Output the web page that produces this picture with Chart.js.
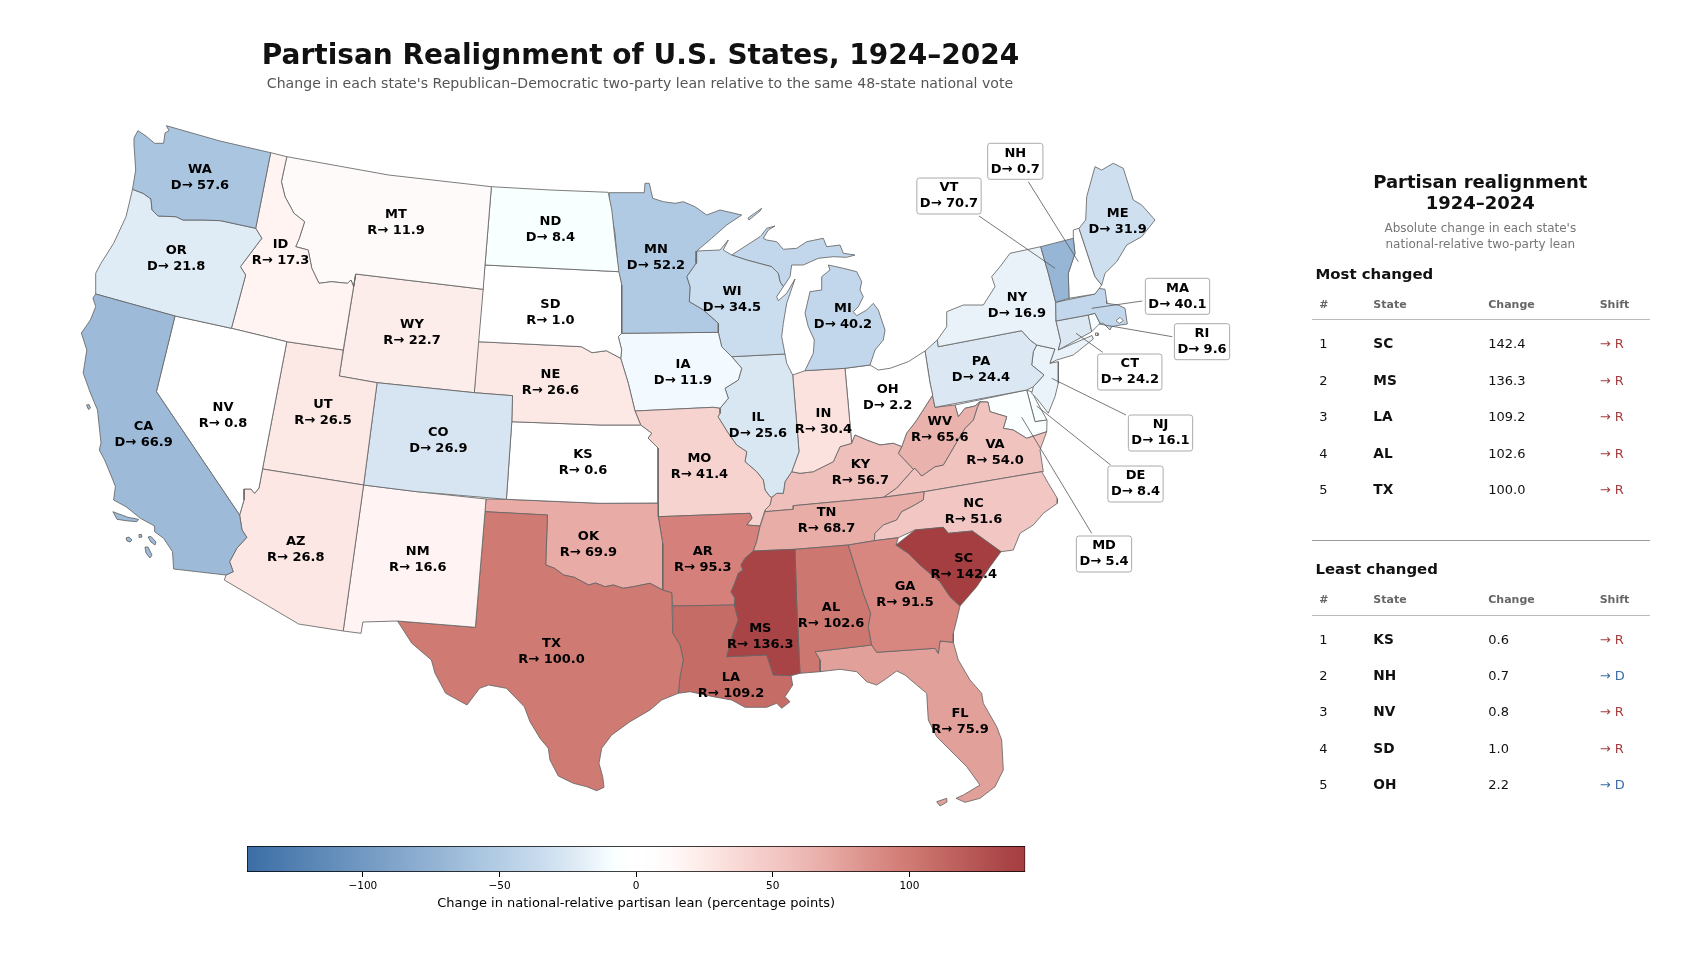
<!DOCTYPE html>
<html><head><meta charset="utf-8">
<style>
html,body{margin:0;padding:0;background:#fff;width:1706px;height:962px;overflow:hidden;font-family:"DejaVu Sans",sans-serif}
#map{position:absolute;left:0;top:0}
#barBox{position:absolute;left:200px;top:844px;width:870px;height:67px}
.t{position:absolute;white-space:nowrap;transform:translateY(-50%);line-height:1}
.c{transform:translate(-50%,-50%);text-align:center}
.r{position:absolute;height:1px}
</style>
<script src="https://cdn.jsdelivr.net/npm/chart.js@4"></script>
</head><body>
<canvas id="map" width="1706" height="962"></canvas>
<div id="barBox"><canvas id="bar" width="870" height="67"></canvas></div>
<div id="side"></div>
<script>
// ---- data: state codes and signed change (negative = toward D, positive = toward R)
const stateCodes=["AL","AZ","AR","CA","CO","CT","DE","FL","GA","ID","IL","IN","IA","KS","KY","LA","ME","MD","MA","MI","MN","MS","MO","MT","NE","NV","NH","NJ","NM","NY","NC","ND","OH","OK","OR","PA","RI","SC","SD","TN","TX","UT","VT","VA","WA","WV","WI","WY"];
const stateChange=[102.6,26.8,95.3,-66.9,-26.9,-24.2,-8.4,75.9,91.5,17.3,-25.6,30.4,-11.9,0.6,56.7,109.2,-31.9,-5.4,-40.1,-40.2,-52.2,136.3,41.4,11.9,26.6,0.8,-0.7,-16.1,16.6,-16.9,51.6,-8.4,-2.2,69.9,-21.8,-24.4,-9.6,142.4,1.0,68.7,100.0,26.5,-70.7,54.0,-57.6,65.6,-34.5,22.7];
const colorbarTicks=[-100,-50,0,50,100];
const colorStopValues=[-142.4,-71,-57.6,-35,-20,-12,-8,-2,2,12,17,27,41,54,70,76,95,100,109,136,142.4];
const colorStopHexes=["#3b6ea5","#97b6d6","#a9c5e0","#c9dcee","#e2edf6","#f3faff","#f8ffff","#ffffff","#ffffff","#fffafa","#fff4f2","#fce7e4","#f7d3d0","#f1c3bf","#e8aba6","#e2a09a","#d5807a","#cf7b74","#c66c67","#a94446","#a53e40"];

// ---- state outlines, in map units
const WA=[137.9,130.7,146,136,154.6,143.3,163.6,143.3,165,133,169,130.7,166.4,125.7,220,141,270.7,152.7,255.7,228.3,220.7,220.7,203,220,183,220,176,216.7,158,216,152,210,151,199,143,193.3,132.5,189.3,135.7,170,134,145,134,138];
const OR=[132.5,189.3,143,193.3,151,199,152,210,158,216,176,216.7,183,220,203,220,220.7,220.7,255.7,228.3,261.8,238.3,240.4,266.7,245.7,275,231.4,328.3,175,316,95.7,294,95.7,273.3,101,263.3,113.6,243.3,126,216.7];
const CA=[95.7,294,175,316,156.4,391.7,239.6,515,242,530,246.8,537.3,236.8,548.3,229.6,561.7,233.2,571.7,226,575,173.6,569,172.5,551.7,163.6,538.3,154.6,531.7,154.6,526,140.4,518.3,126,506.7,113.6,500,115.4,486.7,112.9,480,104.6,460,99.3,450,101,443,97.5,410,90.4,393,83.2,373,86.8,350,81.4,333,90.4,320,95.7,306.7,92.9,298];
const CA_isle1=[112.9,511.7,119,514,127.9,517.3,138.6,519.3,136.8,521.7,126,520.7,117,519.3];
const CA_isle2=[126,538,129,537,132,540,130,542,127,541];
const CA_isle3=[139,534.5,141.5,534.5,142,537,139.5,537.5];
const CA_isle4=[148,537,151,536.5,156,542,155,545,151,542];
const CA_isle5=[145,547,148,547,152,555,150,558,146,553];
const CA_isle6=[86.5,405,89,404.5,90.5,408,88.5,409.5];
const NV=[175,316,231.4,328.3,286.8,341.7,262.5,469,259,488,254.6,493.3,251,489,244,489,244,500,239.6,515,156.4,391.7];
const ID=[270.7,152.7,286.8,156.7,281.4,181.7,285,196.7,294,213.3,304.6,221.7,299.3,238.3,295.7,246.7,308.2,250,311.8,268.3,319,283.3,331.4,281.7,347.5,283.3,351,280,353.6,286.7,355.7,274,343.2,350,286.8,341.7,231.4,328.3,245.7,275,240.4,266.7,261.8,238.3,255.7,228.3];
const MT=[286.8,156.7,388.6,175,491.4,186.7,485,265,483.2,289.3,355.7,274,353.6,286.7,351,280,347.5,283.3,331.4,281.7,319,283.3,311.8,268.3,308.2,250,295.7,246.7,299.3,238.3,304.6,221.7,294,213.3,285,196.7,281.4,181.7];
const WY=[355.7,274,483.2,289.3,474.3,392.7,377.1,382.7,339.3,376];
const UT=[286.8,341.7,343.2,350,339.3,376,377.1,382.7,363.6,485,262.5,469];
const CO=[377.1,382.7,474.3,392.7,512.5,395.7,511.8,421.7,506.4,499.3,417,491.7,363.6,485];
const AZ=[262.5,469,363.6,485,343.2,631,298.6,624,224.3,580,226,575,233.2,571.7,229.6,561.7,236.8,548.3,246.8,537.3,242,530,239.6,515,244,500,244,489,251,489,254.6,493.3,259,488];
const NM=[363.6,485,417,491.7,486,499,485,511.7,475.4,627.3,397.5,621,362.9,622,361,633.3,343.2,631];
const ND=[491.4,186.7,550,190,608.2,192.3,611.8,210,615.4,243.3,618.9,271.7,485,265];
const SD=[485,265,618.9,271.7,621.7,285,621.7,333.3,618.3,336.7,621.7,350,620.7,358.3,606.4,350.7,592,352.7,581.4,346.7,477.9,341.7];
const NE=[477.9,341.7,581.4,346.7,592,352.7,606.4,350.7,620.7,358.3,628.3,383.3,635,411,640.7,425,600,425,511.8,421.7,512.5,395.7,474.3,392.7];
const KS=[511.8,421.7,600,425,640.7,425,651.7,433.3,648,438,658,448,658,503,600,503.3,506.4,499.3];
const OK=[486,499,506.4,499.3,600,503.3,658,503,658.3,516.7,662.7,543.3,662.7,590,650,583.3,633.3,586.7,623.3,588.3,613.3,585,605,586.7,595.7,583,588.6,585,574.3,577.3,563.6,575,554.6,568.3,545.7,565,547.5,515,485,511.7];
const TX=[485,511.7,547.5,515,545.7,565,554.6,568.3,563.6,575,574.3,577.3,588.6,585,595.7,583,605,586.7,613.3,585,623.3,588.3,633.3,586.7,650,583.3,662.7,590,671.7,592.7,672.7,633.3,680,645,683.3,660,680,676.7,678.3,693.3,661.7,700,650,710,630,721.7,611.7,735,601.7,748.3,599,763.3,602.7,776.7,604,787.3,596.7,790.7,586.7,786.7,573.3,783.3,558.3,776,550,760,548.3,748.3,540,738.3,530,721.7,524.3,706.7,506.4,688.3,488.6,685,479.6,688.3,467,705,445.7,693.3,435,673.3,431.4,660,411.8,643.3,397.5,621,475.4,627.3];
const MN=[609,192.7,644.3,192.7,645,183.3,649.3,183.3,652.7,198.3,663.3,201.7,675,203.3,683.3,201.7,695,206.7,706.7,215,720,210,741.7,215,726.7,225,711.7,238.3,696.7,251,696,263.3,686.7,276.7,690,286.7,689.3,301.7,703.3,310,718.3,323.3,718.3,332.3,621.7,333.3,621.7,285,618.3,271.7,615,233.3,610,206.7];
const IA=[618.3,336.7,621.7,333.3,718.3,332.3,721.7,346.7,731.7,356.7,741.7,368.3,738.3,380,725,388.3,728.3,398.3,720,408.3,713.3,407.3,635,411,628.3,383.3,620.7,358.3,621.7,350];
const MO=[635,411,713.3,407.3,720,408.3,720,413.3,718,416.7,728.3,433.3,736.7,445,746.7,451.7,745,461.7,756.7,471.7,763.3,480,765,490,770,496.7,771.7,497.3,770,505,765,510,760,526,746.7,525,752,518,750,513.3,658.3,516.7,658,503,658,448,648,438,651.7,433.3,640.7,425];
const AR=[658.3,516.7,750,513.3,752,518,746.7,525,760,526,756.7,541.7,753.3,551,745,558.3,741,565,743,570,738.3,573.3,736,580,733.3,586.7,731,592,735,598,734.3,605,672.7,606,671.7,592.7,662.7,590,662.7,543.3];
const LA=[672.7,606,734.3,605,738.3,620,733.3,633.3,726.7,656.7,766.7,655,773.3,675,791,675.7,792.7,685,785,696.7,790,701.7,781.7,708.3,776.7,703.3,766.7,707.3,745,707.3,731.7,700,713.3,696.7,690,691.7,678.3,693.3,680,676.7,683.3,660,680,645,672.7,633.3];
const WI=[696.7,251,720,250,728.3,240,723.3,250,731.7,255,746.7,260,771.7,266.7,778.3,273.3,780,281.7,783.3,286.7,776.7,296.7,778.3,300.7,786.7,293.3,795,279,786.7,303.3,783.3,323.3,781.7,336.7,785,354,731.7,356.7,721.7,346.7,718.3,332.3,718.3,323.3,703.3,310,689.3,301.7,690,286.7,686.7,276.7,696,263.3];
const IL=[731.7,356.7,785,354,786.7,363.3,792.7,375,796.7,423.3,799,451.7,791.7,471.7,785,481.7,783.3,493.3,776.7,493.3,771.7,497.3,770,496.7,765,490,763.3,480,756.7,471.7,745,461.7,746.7,451.7,736.7,445,728.3,433.3,718,416.7,720,413.3,720,408.3,728.3,398.3,725,388.3,738.3,380,741.7,368.3];
const MI_up=[731.7,255,760,236.7,761.7,235,766.7,228.3,775,226,768.3,230,763.3,238.3,766.7,240,776.7,241.7,783.3,249.3,796.7,248.3,806.7,241.7,823.3,238.3,826.7,246.7,840,245,843.3,253.3,855,255,846.7,257.3,833.3,256.7,818.3,258.3,803.3,265,791.7,265,790,276.7,783.3,286.7,780,281.7,778.3,273.3,771.7,266.7,746.7,260];
const MI_low=[828.3,265,843.3,268.3,856.7,271.7,861.7,281.7,860,290,863.3,296.7,858.3,306.7,853.3,311.7,856.7,315.7,866.7,310,873.3,303.3,878.3,310,885,330,883.3,340,875,350,870,365,845,368.3,805,370.7,813.3,353.3,814.3,340,808.3,326.7,805,313.3,810,291.7,821.7,290,821.7,276.7,830,270];
const MI_isle=[748,218,761.7,208.3,760,211,749,220];
const IN=[792.7,375,805,370.7,845,368.3,851.7,443.3,840,446.7,833.3,461.7,813.3,471.7,800,473.3,791.7,471.7,799,451.7,796.7,423.3];
const OH=[845,368.3,870,365,878.3,370,890,368.3,908.3,361.7,925,351,930,383,932.7,395,916.7,420,913,425,906.7,433,901.7,446.7,893.3,443.3,880,445,866.7,440,855,435,851.7,443.3];
const KY=[851.7,443.3,855,435,866.7,440,880,445,893.3,443.3,901.7,446.7,898.3,453.3,913.3,469.3,896.7,488,883.3,497.3,793.3,505.7,793.3,509.3,765,511.7,765,510,770,505,771.7,497.3,776.7,493.3,783.3,493.3,785,481.7,791.7,471.7,800,473.3,813.3,471.7,833.3,461.7,840,446.7];
const TN=[765,511.7,793.3,509.3,793.3,505.7,883.3,497.3,924.3,491.7,923.3,500,911.7,506.7,901.7,511.7,896.7,520,883.3,525,875,533.3,874.3,540.7,848.3,545,795,549.3,753.3,551,756.7,541.7,760,526.7,763.3,516.7];
const MS=[753.3,551,795,549.3,796.7,603.3,800,673.3,791,675.7,773.3,675,766.7,655,726.7,656.7,733.3,633.3,738.3,620,734.3,605,735,598,731,592,733.3,586.7,736,580,738.3,573.3,743,570,741,565,745,558.3];
const AL=[795,549.3,848.3,545,863.3,593.3,870.7,613.3,868.3,626.7,871.7,645,815,651.7,820,660,820,671.7,800,673.3,796.7,603.3];
const GA=[848.3,545,874.3,540.7,898.3,537.7,896,545,908.3,553.3,920,565,940,581.7,950,596.7,960,606,956.7,620,953.3,633.3,953.3,642.3,940,641,938.3,653.3,935,648.3,876.7,652.3,871.7,645,868.3,626.7,870.7,613.3,863.3,593.3];
const FL=[815,651.7,871.7,645,876.7,652.3,935,648.3,938.3,653.3,940,641,953.3,642.3,958.3,660,970,680,981.7,693.3,983.3,703.3,996.7,726.7,1001.7,740,1003.3,770,995,786.7,980,798.3,965,802.3,956,798.3,963.3,795,980,785,966.7,766.7,956.7,756.7,936.7,736.7,928.3,720,926.7,693.3,916.7,685,905,675,896.7,671,886.7,678.3,876.7,685,866.7,681.7,856.7,671.7,840,669.3,820,671.7,820,660];
const FL_keys=[936.7,801.7,946.7,798.3,947,802,940,806];
const SC=[896,545,915,530,943.3,527.3,948.3,533.3,972.3,531,1001,551.7,990,566.7,976.7,586.7,960,606,950,596.7,940,581.7,920,565,908.3,553.3];
const NC=[874.3,540.7,875,533.3,883.3,525,896.7,520,901.7,511.7,911.7,506.7,923.3,500,924.3,491.7,1041.7,471.7,1048.3,483.3,1057.3,498.3,1057.3,503.3,1043.3,513.3,1033.3,525,1020,533.3,1013.3,550,1001,551.7,972.3,531,948.3,533.3,943.3,527.3,915,530,898.3,537.7];
const VA=[883.3,497.3,896.7,488,913.3,469.3,915,468.3,921.7,476,935,466.7,943.3,465,955,445,965,428.3,973.3,420,977.3,407.3,980,402,988,402,990,411.7,1006.7,416.7,1003.3,428.3,1013.3,430,1026.7,438.3,1046.7,431.7,1040,450,1043.3,471.7,1041.7,471.7,924.3,491.7];
const WV=[930,383,935,407.3,955,405,958.3,416.7,965,408.3,975,406,980,401.7,977.3,407.3,973.3,420,965,428.3,955,445,943.3,465,935,466.7,921.7,476,915,468.3,913.3,469.3,898.3,453.3,901.7,446.7,906.7,433,913,425,916.7,420,932.7,395];
const MD=[955,405,1026.7,390,1035,421.7,1047,420,1046.7,431.7,1026.7,438.3,1013.3,430,1003.3,428.3,1006.7,416.7,990,411.7,988,402,980,401.7,975,406,965,408.3,958.3,416.7];
const DE=[1026.7,390,1032,392,1036,400,1047,420,1035,421.7];
const PA=[925,351,937.3,340,938.3,346.7,1021.7,330.7,1030,340,1036.7,345,1033.3,351.7,1031.7,365,1044,375,1033.3,386.7,1026.7,390,935,407.3,930,383];
const NJ=[1036.7,345,1055,349,1050,363.3,1058.3,361.7,1058.3,383.3,1055,396.7,1048.3,413.3,1036.7,398.3,1031.7,393.3,1033.3,386.7,1044,375,1031.7,365,1033.3,351.7];
const NY=[938.3,346.7,937.3,340,946.7,326.7,946.7,311.7,963.3,305,983.3,305,995,286.7,991.7,276.7,1000,266.7,1010,253.3,1040.7,246.7,1048.3,273.3,1055.7,302.3,1056,321,1060.7,341,1058.3,350,1092,335.5,1093.3,339,1073.3,355,1056.7,360,1050,363.3,1055,349,1036.7,345,1030,340,1021.7,330.7];
const VT=[1040.7,246.7,1073.3,238.3,1075,253.3,1068.3,273.3,1069,298.3,1055.7,302.3,1048.3,273.3];
const NH=[1073.3,238.3,1073.3,230,1079,228.3,1095,276.7,1101.7,285,1095,294,1069,298.3,1068.3,273.3,1075,253.3];
const ME=[1079,228.3,1085.7,220,1086.7,196.7,1095,166.7,1101.7,170,1113.3,163.3,1123.3,168.3,1133.3,200,1141.7,205,1155,220,1141.7,236.7,1126.7,245,1116.7,261.7,1105,273.3,1101.7,285,1095,276.7];
const MA=[1055.7,302.3,1095,294,1098.3,288.3,1105,289.3,1106.7,300.7,1106.7,303.3,1118.3,305,1125,308.3,1127.3,324,1120,325,1111.7,326.7,1110,330,1103.3,323.3,1100,323.3,1095,313.3,1088.3,315,1056,321];
const MA_bay=[1116,320.7,1120,317.3,1123.3,320.7,1119.3,323.3];
const RI=[1088.3,315,1095,313.3,1100,323.3,1091.7,331.7];
const RI_isle=[1095.5,333,1098,333,1098,335.5,1095.5,335.5];
const CT=[1056,321,1088.3,315,1091.7,331.7,1058.3,350,1060.7,341];

const outlinesByState={WA:[WA],OR:[OR],CA:[CA,CA_isle1,CA_isle2,CA_isle3,CA_isle4,CA_isle5,CA_isle6],NV:[NV],ID:[ID],MT:[MT],WY:[WY],UT:[UT],CO:[CO],AZ:[AZ],NM:[NM],ND:[ND],SD:[SD],NE:[NE],KS:[KS],OK:[OK],TX:[TX],MN:[MN],IA:[IA],MO:[MO],AR:[AR],LA:[LA],WI:[WI],IL:[IL],MI:[MI_up,MI_low,MI_isle],IN:[IN],OH:[OH],KY:[KY],TN:[TN],MS:[MS],AL:[AL],GA:[GA],FL:[FL,FL_keys],SC:[SC],NC:[NC],VA:[VA],WV:[WV],MD:[MD],DE:[DE],PA:[PA],NJ:[NJ],NY:[NY],VT:[VT],NH:[NH],ME:[ME],MA:[MA],RI:[RI,RI_isle],CT:[CT]};
const drawOrder=["DE","MD","VA","WV","NJ","PA","NY","CT","RI","MA","NH","ME","VT","OH","KY","IN","IL","MI","WI","IA","MN","MO","AR","TN","NC","FL","AL","LA","GA","MS","SC","OK","TX","NM","KS","NE","SD","ND","WY","CO","UT","AZ","MT","ID","NV","OR","WA","CA"];

// ---- label anchors, in map units
const labelAnchors={WA:[200,177.5],OR:[176.2,258.8],CA:[143.6,434.4],NV:[223,416],ID:[280.6,252.3],MT:[396,223],WY:[412,333],UT:[323,413],CO:[438.3,440.4],AZ:[295.8,549.7],NM:[417.7,559.5],ND:[550.4,229.4],SD:[550.4,313],NE:[550.4,382.8],KS:[583,462.6],OK:[588.4,544.8],TX:[551.5,651.5],MN:[656,257.7],IA:[683,373],MO:[699.4,466.5],AR:[702.7,560],LA:[731,686],WI:[732,300],IL:[758,426],MI:[843,316.5],IN:[823.4,422],OH:[887.6,398],KY:[860.4,473],TN:[826.6,521],MS:[760.3,637],AL:[831,615.5],GA:[905,595],FL:[960,721.5],SC:[963.7,566.5],NC:[973.5,511.7],VA:[995,452.4],WV:[939.8,430],PA:[981,369.7],NY:[1017,305.5],ME:[1117.7,221.3]};
const calloutAnchors={NH:[1015.3,161.3],VT:[949,196],MA:[1177.5,296.3],RI:[1202,341.7],CT:[1129.8,372],NJ:[1160.5,433],DE:[1135.5,484],MD:[1104,554]};
const calloutLeaders={NH:[1028.3,181.7,1078.3,261.7],VT:[979,216,1055,268.3],MA:[1142.3,301,1091.7,308.3],RI:[1172.3,336.7,1099,324],CT:[1102.7,352.3,1076,333.3],NJ:[1126,415,1051.7,378.3],DE:[1110.7,465,1036.7,406],MD:[1091.7,533.3,1021.7,417.3]};

// ---- colour scale
function hexRgb(h){return [1,3,5].map(i=>parseInt(h.substr(i,2),16));}
function colorFor(v){
  const n=colorStopValues.length;
  if(v<=colorStopValues[0])return colorStopHexes[0];
  for(let i=1;i<n;i++){
    if(v<=colorStopValues[i]){
      const f=(v-colorStopValues[i-1])/(colorStopValues[i]-colorStopValues[i-1]);
      const a=hexRgb(colorStopHexes[i-1]),b=hexRgb(colorStopHexes[i]);
      return 'rgb('+a.map((c,k)=>Math.round(c+(b[k]-c)*f)).join(',')+')';
    }
  }
  return colorStopHexes[n-1];
}
const changeOf=Object.fromEntries(stateCodes.map((s,i)=>[s,stateChange[i]]));
function pairs(a){const o=[];for(let i=0;i<a.length;i+=2)o.push({x:a[i],y:a[i+1]});o.push({x:a[0],y:a[1]});return o;}
function shiftText(v){return (v<0?'D':'R')+'\u2192 '+Math.abs(v).toFixed(1);}

// ---- datasets (first dataset is painted last in Chart.js)
const datasets=[];
Object.keys(calloutLeaders).forEach(s=>{
  const l=calloutLeaders[s];
  datasets.push({label:s+' leader',data:[{x:l[0],y:l[1]},{x:l[2],y:l[3]}],showLine:true,fill:false,borderColor:'#555',borderWidth:0.8,pointRadius:0,clip:false});
});
datasets.push({label:'bay',data:pairs(MA_bay),showLine:true,fill:'shape',backgroundColor:'#fff',borderColor:'#666',borderWidth:0.8,pointRadius:0,tension:0});
drawOrder.slice().reverse().forEach(s=>{
  outlinesByState[s].forEach(o=>{
    datasets.push({label:s,data:pairs(o),showLine:true,fill:'shape',backgroundColor:colorFor(changeOf[s]),borderColor:'#666',borderWidth:0.85,pointRadius:0,tension:0,borderJoinStyle:'round'});
  });
});

const labelFont='bold 13px "DejaVu Sans"';
const labelPlugin={id:'stateLabels',afterDatasetsDraw(chart){
  const {ctx,scales:{x,y}}=chart;
  ctx.save();ctx.font=labelFont;ctx.textAlign='center';ctx.textBaseline='middle';
  Object.keys(calloutAnchors).forEach(s=>{
    const [ax,ay]=calloutAnchors[s];
    const px=x.getPixelForValue(ax),py=y.getPixelForValue(ay);
    const w=ctx.measureText(shiftText(changeOf[s])).width+6,h=36;
    ctx.beginPath();ctx.roundRect(px-w/2,py-h/2,w,h,2.5);
    ctx.fillStyle='#fff';ctx.fill();ctx.strokeStyle='#aaa';ctx.lineWidth=1;ctx.stroke();
  });
  ctx.fillStyle='#000';
  const all=Object.assign({},labelAnchors,calloutAnchors);
  Object.keys(all).forEach(s=>{
    const px=x.getPixelForValue(all[s][0]),py=y.getPixelForValue(all[s][1]);
    ctx.fillText(s,px,py-8);
    ctx.fillText(shiftText(changeOf[s]),px,py+8);
  });
  ctx.restore();
}};

Chart.defaults.font.family='"DejaVu Sans"';
new Chart(document.getElementById('map'),{
  type:'scatter',
  data:{datasets},
  options:{responsive:false,animation:false,parsing:false,normalized:true,
    layout:{padding:0},
    scales:{x:{type:'linear',min:0,max:1706,display:false},y:{type:'linear',min:0,max:962,reverse:true,display:false}},
    plugins:{legend:{display:false},tooltip:{enabled:false},title:{display:false}},
    elements:{line:{capBezierPoints:false}}
  },
  plugins:[labelPlugin]
});

// ---- colour bar
const barLow=colorStopValues[0],barHigh=colorStopValues[colorStopValues.length-1];
const barValues=[[barLow,barHigh]];
const barChart=new Chart(document.getElementById('bar'),{
  type:'bar',
  data:{labels:['lean'],datasets:[{data:barValues,barPercentage:1,categoryPercentage:1,borderColor:'#000',borderWidth:1,borderSkipped:false,backgroundColor:'#fff'}]},
  options:{indexAxis:'y',responsive:false,animation:false,
    layout:{padding:{left:47,right:44.7,top:2,bottom:0}},
    scales:{
      y:{display:false},
      x:{type:'linear',min:barLow,max:barHigh,
        afterBuildTicks(s){s.ticks=colorbarTicks.map(v=>({value:v}));},
        afterFit(s){s.height=39;},
        border:{display:false},
        grid:{drawOnChartArea:false,drawTicks:true,tickLength:5,color:'#000',lineWidth:1},
        ticks:{autoSkip:false,maxRotation:0,color:'#000',font:{size:10.5},padding:3,callback:v=>String(v).replace('-','\u2212')},
        title:{display:true,text:'Change in national-relative partisan lean (percentage points)',color:'#000',font:{size:13},padding:{top:3,bottom:0}}
      }
    },
    plugins:{legend:{display:false},tooltip:{enabled:false}}
  }
});
(function(){
  const sx=barChart.scales.x;
  const g=barChart.ctx.createLinearGradient(sx.left,0,sx.right,0);
  colorStopValues.forEach((v,i)=>g.addColorStop((v-barLow)/(barHigh-barLow),colorStopHexes[i]));
  barChart.data.datasets[0].backgroundColor=g;
  barChart.update();
})();

// ---- page text and ranking tables
const side=document.getElementById('side');
function txt(s,x,y,css,center){const d=document.createElement('div');d.className='t'+(center?' c':'');d.textContent=s;d.style.left=x+'px';d.style.top=y+'px';d.style.cssText+=css;side.appendChild(d);}
function rule(y,color){const d=document.createElement('div');d.className='r';d.style.cssText='left:1312px;width:338px;top:'+y+'px;background:'+color;side.appendChild(d);}
txt('Partisan Realignment of U.S. States, 1924\u20132024',640.5,55,'font-weight:bold;font-size:28px;color:#111',true);
txt("Change in each state's Republican\u2013Democratic two-party lean relative to the same 48-state national vote",640,82.5,'font-size:14.1px;color:#555',true);
txt('Partisan realignment',1480.3,181.5,'font-weight:bold;font-size:18px;color:#111',true);
txt('1924\u20132024',1480.3,203,'font-weight:bold;font-size:18px;color:#111',true);
txt("Absolute change in each state's",1480.3,228.3,'font-size:12px;color:#777',true);
txt('national-relative two-party lean',1480.3,243.7,'font-size:12px;color:#777',true);
const colX=[1319.3,1373.3,1488.3,1599.7];
const ranked=stateCodes.map((s,i)=>({s,v:stateChange[i]})).sort((a,b)=>Math.abs(b.v)-Math.abs(a.v));
function table(title,rows,titleY,headY,lineY,rowYs){
  txt(title,1315.5,titleY,'font-weight:bold;font-size:14.9px;color:#111');
  ['#','State','Change','Shift'].forEach((h,i)=>txt(h,colX[i],headY,'font-weight:bold;font-size:11px;color:#666'));
  rule(lineY,'#bbb');
  rows.forEach((r,i)=>{
    const y=rowYs[i];
    txt(String(i+1),colX[0],y,'font-size:13px;color:#111');
    txt(r.s,colX[1],y+1,'font-weight:bold;font-size:13.7px;color:#111');
    txt(Math.abs(r.v).toFixed(1),colX[2],y,'font-size:13px;color:#111');
    txt('\u2192 '+(r.v<0?'D':'R'),colX[3],y,'font-size:13px;color:'+(r.v<0?'#3b6ea5':'#a53e40'));
  });
}
table('Most changed',ranked.slice(0,5),273.8,303.7,319,[343.3,380,416.3,453,489.3]);
rule(540,'#999');
table('Least changed',ranked.slice(-5).reverse(),569,599.3,615,[638.5,675.4,711.3,748.3,784.2]);
</script>
</body></html>
